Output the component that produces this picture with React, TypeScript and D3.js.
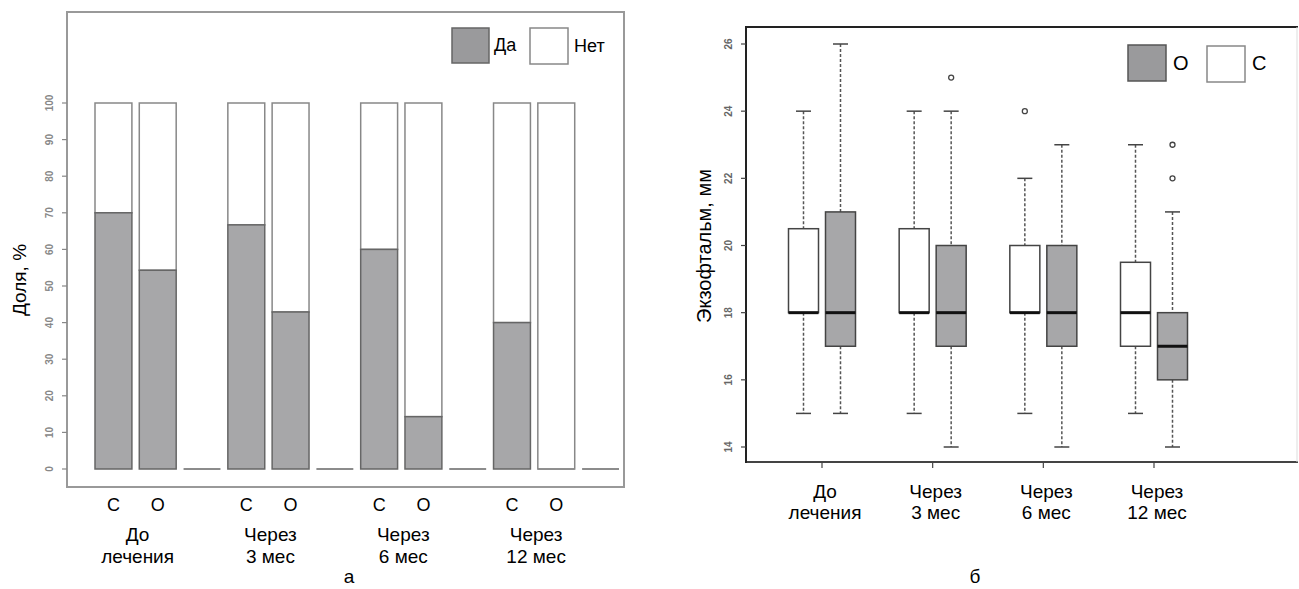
import React from "react";
import * as d3 from "d3";

const periods = [["До", "лечения"], ["Через", "3 мес"], ["Через", "6 мес"], ["Через", "12 мес"]];
const groupLetters = ["С", "О"];
const yesC = [70, 66.7, 60, 40];
const yesO = [54.3, 42.9, 14.3, 0];
const pctTicks = [0, 10, 20, 30, 40, 50, 60, 70, 80, 90, 100];

// boxplot stats: [lowWhisker, q1, median, q3, highWhisker]
const boxC = [
  [15, 18, 18, 20.5, 24],
  [15, 18, 18, 20.5, 24],
  [15, 18, 18, 20, 22],
  [15, 17, 18, 19.5, 23],
];
const boxO = [
  [15, 17, 18, 21, 26],
  [14, 17, 18, 20, 24],
  [14, 17, 18, 20, 23],
  [14, 16, 17, 18, 21],
];
const outC = [[], [], [24], []];
const outO = [[], [25], [], [22, 23]];
const exoTicks = [14, 16, 18, 20, 22, 24, 26];

const GRAY = "#a7a7a9";
const FONT = "'Liberation Sans Narrow', 'Liberation Sans', Arial, sans-serif";

export default function App() {
  const yL = d3.scaleLinear().domain([0, 100]).range([469, 103]);
  const xL = d3.scaleLinear().domain([0.2, 14.4]).range([95, 619]);
  const unit = xL(1) - xL(0);
  const bars: { left: number; yes: number | null }[] = [];
  for (let g = 0; g < 4; g++) {
    bars.push({ left: 0.2 + (g * 3) * 1.2, yes: yesC[g] });
    bars.push({ left: 0.2 + (g * 3 + 1) * 1.2, yes: yesO[g] });
    bars.push({ left: 0.2 + (g * 3 + 2) * 1.2, yes: null });
  }

  const yR = d3.scaleLinear().domain([14, 26]).range([447, 44]);
  const xR = d3.scaleLinear().domain([0, 3]).range([822, 1154]);
  const off = 18.5;
  const bw = 30;

  const renderBox = (s: number[], cx: number, fill: string, key: string, outs: number[]) => {
    const [lo, q1, med, q3, hi] = s;
    return (
      <g key={key}>
        <line x1={cx} x2={cx} y1={yR(hi)} y2={yR(q3)} stroke="#555" strokeWidth={1.5} strokeDasharray="3,2" />
        <line x1={cx} x2={cx} y1={yR(q1)} y2={yR(lo)} stroke="#555" strokeWidth={1.5} strokeDasharray="3,2" />
        <line x1={cx - 7.5} x2={cx + 7.5} y1={yR(hi)} y2={yR(hi)} stroke="#444" strokeWidth={1.5} />
        <line x1={cx - 7.5} x2={cx + 7.5} y1={yR(lo)} y2={yR(lo)} stroke="#444" strokeWidth={1.5} />
        <rect x={cx - bw / 2} y={yR(q3)} width={bw} height={yR(q1) - yR(q3)} fill={fill} stroke="#444" strokeWidth={1.5} />
        <line x1={cx - bw / 2} x2={cx + bw / 2} y1={yR(med)} y2={yR(med)} stroke="#111" strokeWidth={3} />
        {outs.map((o, i) => (
          <circle key={i} cx={cx} cy={yR(o)} r={2.5} fill="none" stroke="#444" strokeWidth={1.3} />
        ))}
      </g>
    );
  };

  return (
    <svg width={1299} height={589} style={{ position: "absolute", left: 0, top: 0, background: "#fff" }} fontFamily={FONT}>
      {/* ===== Left panel ===== */}
      <rect x={67} y={12} width={557} height={475} fill="none" stroke="#999" strokeWidth={2} />
      {pctTicks.map((t) => (
        <g key={t}>
          <line x1={62} x2={67} y1={yL(t)} y2={yL(t)} stroke="#888" strokeWidth={1.2} />
          <text transform={`translate(53,${yL(t)}) rotate(-90)`} textAnchor="middle" fontSize={10} fontWeight="bold" fill="#888" fontFamily="'Liberation Sans', Arial, sans-serif">
            {t}
          </text>
        </g>
      ))}
      {bars.map((b, i) => {
        const x0 = xL(b.left);
        if (b.yes === null) {
          return <line key={i} x1={x0} x2={x0 + unit} y1={yL(0)} y2={yL(0)} stroke="#666" strokeWidth={1.5} />;
        }
        return (
          <g key={i}>
            <rect x={x0} y={yL(100)} width={unit} height={yL(b.yes) - yL(100)} fill="#fff" stroke="#888" strokeWidth={1.5} />
            {b.yes > 0 && (
              <rect x={x0} y={yL(b.yes)} width={unit} height={yL(0) - yL(b.yes)} fill={GRAY} stroke="#666" strokeWidth={1.5} />
            )}
            {b.yes === 0 && <line x1={x0} x2={x0 + unit} y1={yL(0)} y2={yL(0)} stroke="#888" strokeWidth={1.5} />}
          </g>
        );
      })}
      <rect x={452} y={28} width={37} height={35} fill="#9a9a9c" stroke="#666" strokeWidth={1.5} />
      <text x={494} y={51} fontSize={18}>Да</text>
      <rect x={530} y={28} width={38} height={36} fill="#fff" stroke="#888" strokeWidth={1.5} />
      <text x={574} y={52} fontSize={18}>Нет</text>
      {periods.map((p, g) => {
        const cC = xL(0.2 + g * 3 * 1.2) + unit / 2;
        const cO = xL(0.2 + (g * 3 + 1) * 1.2) + unit / 2;
        const mid = (cC + cO) / 2;
        return (
          <g key={g}>
            <text x={cC} y={511} textAnchor="middle" fontSize={18}>{groupLetters[0]}</text>
            <text x={cO} y={511} textAnchor="middle" fontSize={18}>{groupLetters[1]}</text>
            <text x={mid + 2} y={541} textAnchor="middle" fontSize={19}>{p[0]}</text>
            <text x={mid + 2} y={563} textAnchor="middle" fontSize={19}>{p[1]}</text>
          </g>
        );
      })}
      <text transform="translate(26,280) rotate(-90)" textAnchor="middle" fontSize={19} fontFamily="'Liberation Sans', Arial, sans-serif">Доля, %</text>
      <text x={349} y={583} textAnchor="middle" fontSize={19}>а</text>

      {/* ===== Right panel ===== */}
      <line x1={746} x2={1298} y1={27} y2={27} stroke="#222" strokeWidth={2} />
      <line x1={746} x2={1298} y1={462} y2={462} stroke="#444" strokeWidth={2} />
      <line x1={746} x2={746} y1={26} y2={463} stroke="#222" strokeWidth={2} />
      <line x1={1297} x2={1297} y1={27} y2={462} stroke="#ddd" strokeWidth={1} />
      {exoTicks.map((t) => (
        <g key={t}>
          <line x1={741} x2={746} y1={yR(t)} y2={yR(t)} stroke="#444" strokeWidth={1.2} />
          <text transform={`translate(732,${yR(t)}) rotate(-90)`} textAnchor="middle" fontSize={10} fontWeight="bold" fill="#666" fontFamily="'Liberation Sans', Arial, sans-serif">
            {t}
          </text>
        </g>
      ))}
      {periods.map((p, g) => (
        <line key={g} x1={xR(g)} x2={xR(g)} y1={462} y2={468} stroke="#444" strokeWidth={1.2} />
      ))}
      {boxC.map((s, g) => renderBox(s, xR(g) - off, "#fff", `c${g}`, outC[g]))}
      {boxO.map((s, g) => renderBox(s, xR(g) + off, GRAY, `o${g}`, outO[g]))}
      <rect x={1128} y={45} width={38} height={36} fill="#9a9a9c" stroke="#555" strokeWidth={1.5} />
      <text x={1173} y={70} fontSize={20}>О</text>
      <rect x={1207} y={46} width={38} height={36} fill="#fff" stroke="#888" strokeWidth={1.5} />
      <text x={1252} y={70} fontSize={20}>С</text>
      {periods.map((p, g) => (
        <g key={g}>
          <text x={xR(g) + 3} y={498} textAnchor="middle" fontSize={19}>{p[0]}</text>
          <text x={xR(g) + 3} y={519} textAnchor="middle" fontSize={19}>{p[1]}</text>
        </g>
      ))}
      <text transform="translate(711,246) rotate(-90)" textAnchor="middle" fontSize={20} fontFamily="'Liberation Sans', Arial, sans-serif">Экзофтальм, мм</text>
      <text x={975} y={583} textAnchor="middle" fontSize={19}>б</text>
    </svg>
  );
}
